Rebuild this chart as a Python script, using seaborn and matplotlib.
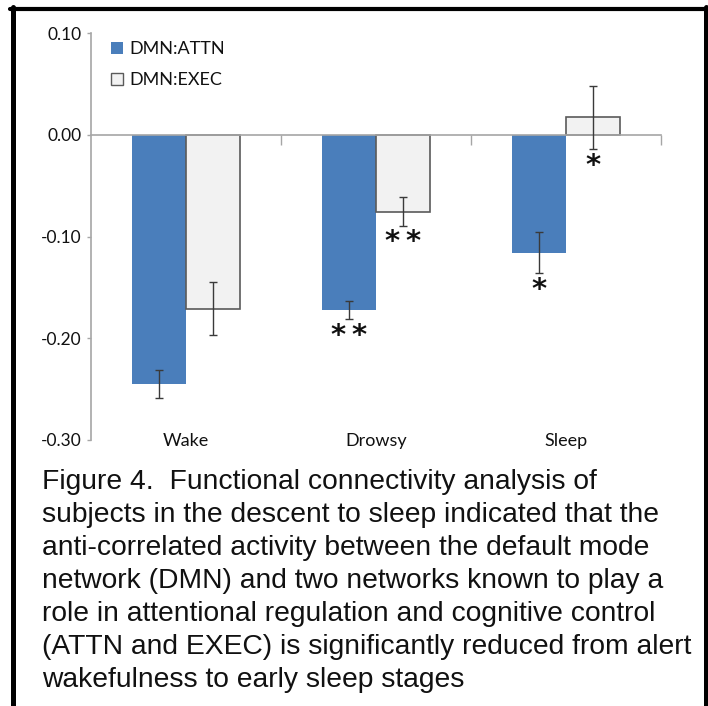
import matplotlib
matplotlib.use("Agg")
import matplotlib.pyplot as plt
import seaborn as sns
import pandas as pd
from matplotlib.lines import Line2D

stages = ["Wake", "Drowsy", "Sleep"]
networks = ["DMN:ATTN", "DMN:EXEC"]
attn_vals = [-0.245, -0.172, -0.116]
attn_err = [0.014, 0.009, 0.020]
exec_vals = [-0.171, -0.0755, 0.017]
exec_err = [0.026, 0.014, 0.031]
attn_stars = ["", "*\u2009*", "*"]
exec_stars = ["", "*\u2009*", "*"]
yticks = [0.10, 0.00, -0.10, -0.20, -0.30]
caption = ("Figure 4.  Functional connectivity analysis of\n"
           "subjects in the descent to sleep indicated that the\n"
           "anti-correlated activity between the default mode\n"
           "network (DMN) and two networks known to play a\n"
           "role in attentional regulation and cognitive control\n"
           "(ATTN and EXEC) is significantly reduced from alert\n"
           "wakefulness to early sleep stages")

df = pd.DataFrame({
    "stage": stages * 2,
    "network": [networks[0]] * 3 + [networks[1]] * 3,
    "value": attn_vals + exec_vals,
})

sns.set_style("white")
plt.rcParams["font.family"] = ["Lato", "DejaVu Sans"]

W, H = 708, 706
fig = plt.figure(figsize=(W / 100, H / 100), dpi=100)
ax = fig.add_axes([91 / W, 1 - 440 / H, (661 - 91) / W, (440 - 33) / H])

BLUE = "#4a7ebb"
LIGHT = "#f2f2f2"
AXC = "#a6a6a6"

sns.barplot(data=df, x="stage", y="value", hue="network",
            palette=[BLUE, LIGHT], width=0.57, ax=ax, legend=False,
            errorbar=None, saturation=1)

for bar in ax.containers[0]:
    bar.set_edgecolor("none")
for bar in ax.containers[1]:
    bar.set_edgecolor("#5a5a5a")
    bar.set_linewidth(1.2)

for cont, vals, errs, stars in [(ax.containers[0], attn_vals, attn_err, attn_stars),
                                 (ax.containers[1], exec_vals, exec_err, exec_stars)]:
    xs = [b.get_x() + b.get_width() / 2 for b in cont]
    ax.errorbar(xs, vals, yerr=errs, fmt="none", ecolor="#3a3a3a",
                elinewidth=1.0, capsize=3, capthick=1.0, zorder=5)
    for x, v, e, s in zip(xs, vals, errs, stars):
        if s:
            ax.annotate(s, (x, v - e), xytext=(0, -12), textcoords="offset points",
                        ha="center", va="center", fontsize=21, fontweight="bold",
                        family="DejaVu Sans", color="#111111")

ax.set_xlim(-0.5, 2.5)
ax.set_ylim(-0.30, 0.10)
ax.set_yticks(yticks)
ax.set_yticklabels([f"{t:.2f}" for t in yticks], fontsize=12.5, color="#111111")
ax.tick_params(axis="y", length=3, width=1, color=AXC, pad=4, direction="out", left=True)
ax.set_xlabel("")
ax.set_ylabel("")

for s in ["top", "right"]:
    ax.spines[s].set_visible(False)
ax.spines["left"].set_color(AXC)
ax.spines["left"].set_linewidth(1.2)
ax.spines["bottom"].set_position(("data", 0))
ax.spines["bottom"].set_color(AXC)
ax.spines["bottom"].set_linewidth(1.2)
ax.set_xticks([0.5, 1.5, 2.5])
ax.set_xticklabels([])
ax.tick_params(axis="x", length=7, width=1, color=AXC, direction="out", bottom=True)

sec = ax.secondary_xaxis("bottom")
sec.set_xticks(range(len(stages)))
sec.set_xticklabels(stages, fontsize=13, color="#111111")
sec.tick_params(length=0, pad=-5)
sec.spines["bottom"].set_visible(False)

handles = [plt.Rectangle((0, 0), 1, 1, facecolor=BLUE, edgecolor="none"),
           plt.Rectangle((0, 0), 1, 1, facecolor=LIGHT, edgecolor="#5a5a5a", linewidth=1)]
leg = ax.legend(handles, networks, loc="upper left", bbox_to_anchor=(0.007, 1.02),
                frameon=False, fontsize=13, handlelength=0.67, handleheight=0.67,
                handletextpad=0.33, labelspacing=0.85)
for t in leg.get_texts():
    t.set_color("#111111")

fig.text(42 / W, 1 - 469 / H, caption, ha="left", va="top", fontsize=20.3,
         family="Liberation Sans", linespacing=1.35, color="#111111")

lw = 3.6
fig.add_artist(Line2D([12.5 / W, 12.5 / W], [0, 1 - 7 / H], color="black", lw=lw, transform=fig.transFigure))
fig.add_artist(Line2D([10 / W, 708 / W], [1 - 9 / H, 1 - 9 / H], color="black", lw=3.0, transform=fig.transFigure))
fig.add_artist(Line2D([705.5 / W, 705.5 / W], [0, 1 - 7 / H], color="black", lw=lw, transform=fig.transFigure))

fig.savefig("out.png", dpi=100)
